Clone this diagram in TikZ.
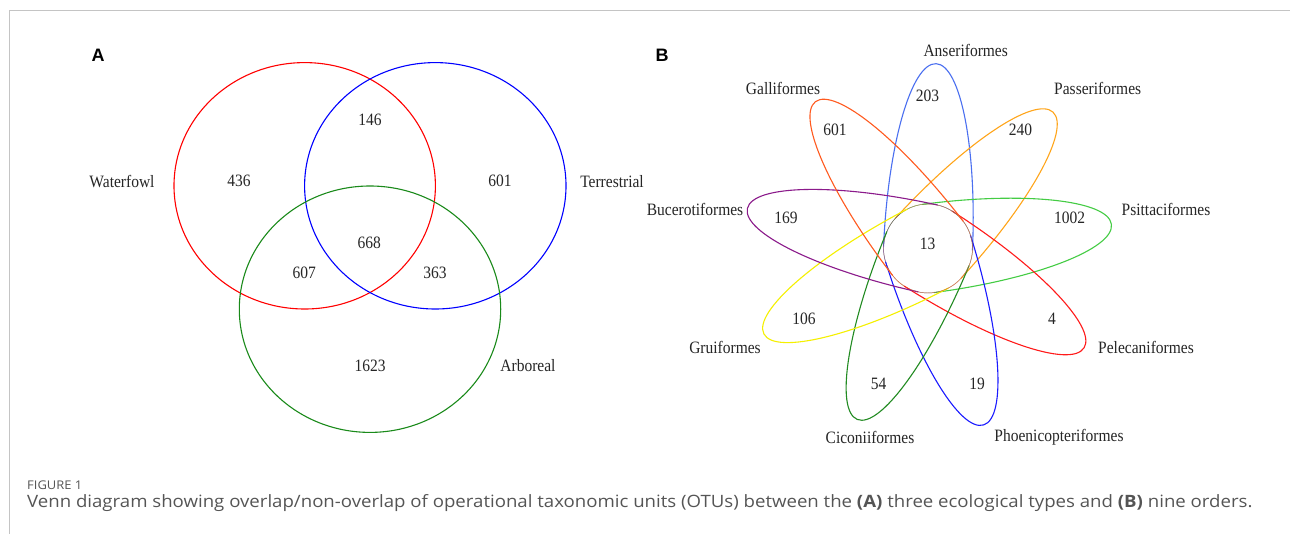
\documentclass[tikz,border=0pt]{standalone}
\usepackage{fontspec}
\setmainfont{Liberation Serif}
\newfontfamily\capfont{Open Sans}
\newfontfamily\panelfont{Liberation Sans}
\newcommand\tl[1]{\scalebox{1}[1.12]{#1}}
\definecolor{frame}{HTML}{C4C4C4}
\definecolor{captxt}{HTML}{555555}
\definecolor{vred}{HTML}{FF0000}
\definecolor{vblue}{HTML}{0000FF}
\definecolor{vgreen}{HTML}{1A8A1A}
\definecolor{pAns}{HTML}{4A6FF0}
\definecolor{pGal}{HTML}{FF5A1F}
\definecolor{pPas}{HTML}{FFA51A}
\definecolor{pPsi}{HTML}{44CC44}
\definecolor{pPel}{HTML}{FF1A1A}
\definecolor{pPho}{HTML}{1A1AFF}
\definecolor{pCic}{HTML}{228B22}
\definecolor{pGru}{HTML}{F5F000}
\definecolor{pBuc}{HTML}{8B1A8B}
\tikzset{
  lbl/.style={font=\fontsize{15.5}{18}\selectfont, inner sep=0pt, text=black!85},
  panel/.style={font=\panelfont\bfseries\fontsize{18}{20}\selectfont, inner sep=0pt},
  setline/.style={line width=1.1pt},
  petalline/.style={line width=1.1pt},
  capline/.style={line width=0.45pt, opacity=0.4},
  captext/.style={anchor=west, inner sep=0pt, text=captxt},
}
\newcommand\petal[2]{%
  \begin{scope}[shift={(928,248.5)}, rotate=#1]
    \draw[#2, petalline] (0,44.5) arc[start angle=90, end angle=-90, x radius=185, y radius=44.5];
    \draw[#2, capline] (0,-44.5) arc[start angle=-90, end angle=-270, radius=44.5];
  \end{scope}}
\begin{document}
\begin{tikzpicture}[x=1pt, y=-1pt]
\useasboundingbox (0,0) rectangle (1290,534);
\fill[white] (0,0) rectangle (1290,534);
% frame
\draw[frame, line width=1pt] (9,534) -- (9,10.5) -- (1290,10.5);

% ---------- Panel A ----------
\node[panel] (pa) at (98,55) {A};
\draw[vred, setline] (304.7,185.8) ellipse[x radius=130.7, y radius=123.2];
\draw[vblue, setline] (435.3,185.8) ellipse[x radius=130.7, y radius=123.2];
\draw[vgreen, setline] (370,309.2) ellipse[x radius=130.7, y radius=123.2];
\node[lbl] (wf) at (122,182) {\tl{Waterfowl}};
\node[lbl] (te) at (612,182) {\tl{Terrestrial}};
\node[lbl] (ar) at (528,366) {\tl{Arboreal}};
\node[lbl] (a1) at (239,181) {\tl{436}};
\node[lbl] (a2) at (370,120) {\tl{146}};
\node[lbl] (a3) at (500,181) {\tl{601}};
\node[lbl] (a4) at (369.3,242.7) {\tl{668}};
\node[lbl] (a5) at (304.3,273.3) {\tl{607}};
\node[lbl] (a6) at (435,273.3) {\tl{363}};
\node[lbl] (a7) at (370,365.7) {\tl{1623}};

% ---------- Panel B ----------
\node[panel] (pb) at (662,55) {B};
\petal{87.5}{pAns}
\petal{47.5}{pPas}
\petal{7.5}{pPsi}
\petal{-32.5}{pPel}
\petal{-72.5}{pPho}
\petal{-112.5}{pCic}
\petal{-152.5}{pGru}
\petal{167.5}{pBuc}
\petal{127.5}{pGal}

\node[lbl] (l1) at (965.7,50) {\tl{Anseriformes}};
\node[lbl] (l2) at (783,88) {\tl{Galliformes}};
\node[lbl] (l3) at (1097.7,88) {\tl{Passeriformes}};
\node[lbl] (l4) at (695,209) {\tl{Bucerotiformes}};
\node[lbl] (l5) at (1166,209) {\tl{Psittaciformes}};
\node[lbl] (l6) at (725,347) {\tl{Gruiformes}};
\node[lbl] (l7) at (1146,347) {\tl{Pelecaniformes}};
\node[lbl] (l8) at (870,437) {\tl{Ciconiiformes}};
\node[lbl] (l9) at (1059,437) {\tl{Phoenicopteriformes}};

\node[lbl] (n1) at (927.5,95.7) {\tl{203}};
\node[lbl] (n2) at (835,130) {\tl{601}};
\node[lbl] (n3) at (1020.5,130) {\tl{240}};
\node[lbl] (n4) at (786,218) {\tl{169}};
\node[lbl] (n5) at (1069.5,218) {\tl{1002}};
\node[lbl] (n6) at (927.5,244) {\tl{13}};
\node[lbl] (n7) at (804,319) {\tl{106}};
\node[lbl] (n8) at (1052,319) {\tl{4}};
\node[lbl] (n9) at (878.6,384) {\tl{54}};
\node[lbl] (n10) at (977,384) {\tl{19}};

% ---------- Caption ----------
\node[captext, font=\capfont\fontsize{12}{14}\selectfont] (fig) at (27,485) {\scalebox{1.08}[1]{FIGURE 1}};
\node[captext, font=\capfont\fontsize{17}{20}\selectfont] (cap) at (27,503)
  {\scalebox{1.095}[1]{Venn diagram showing overlap/non-overlap of operational taxonomic units (OTUs) between the \textbf{(A)} three ecological types and \textbf{(B)} nine orders.}};
\end{tikzpicture}
\end{document}
